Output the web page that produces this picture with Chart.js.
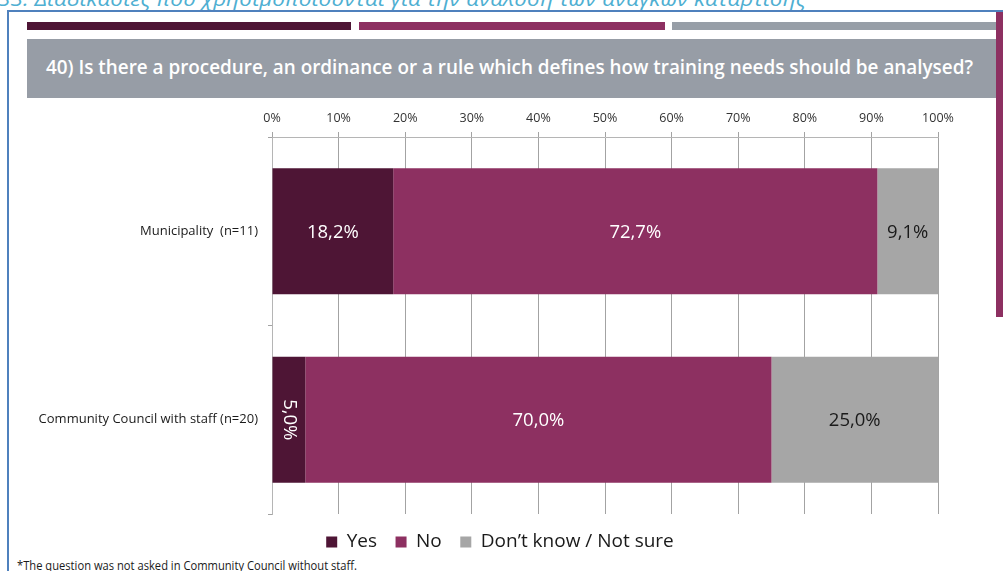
<!DOCTYPE html>
<html>
<head>
<meta charset="utf-8">
<title>Training needs analysis procedure</title>
<script src="https://cdn.jsdelivr.net/npm/chart.js@4/dist/chart.umd.min.js"></script>
<style>
  html, body { margin: 0; padding: 0; background: #fff; overflow: hidden; }
  #page { position: relative; width: 1003px; height: 571px; overflow: hidden; }
  #deco { position: absolute; left: 0; top: 0; }
  #chart { position: absolute; left: 0; top: 0; }
</style>
</head>
<body>
<div id="page">
  <svg id="deco" width="1003" height="571" xmlns="http://www.w3.org/2000/svg">
    <!-- section heading (runs off the top of the page) -->
    <text x="-2" y="6" font-family="Open Sans" font-style="italic" font-size="20" fill="#4fafd2"
          textLength="808" lengthAdjust="spacingAndGlyphs">33. Διαδικασίες που χρησιμοποιούνται για την ανάλυση των αναγκών κατάρτισης</text>
    <!-- blue frame -->
    <rect x="7" y="10" width="2" height="561" fill="#4f81bd"/>
    <rect x="7" y="10" width="996" height="2" fill="#4f81bd"/>
    <!-- colour stripes -->
    <rect x="27" y="22" width="324" height="8" fill="#4e1535"/>
    <rect x="359" y="22" width="306" height="8" fill="#8d3061"/>
    <rect x="672" y="22" width="324" height="8" fill="#979ea7"/>
    <!-- side marker -->
    <rect x="996" y="12" width="7" height="305" fill="#8d3061"/>
    <!-- question banner -->
    <rect x="27" y="39" width="969" height="59" fill="#979da6"/>
    <text x="46" y="74" font-family="Open Sans" font-weight="600" font-size="19.5" fill="#ffffff"
          textLength="927" lengthAdjust="spacingAndGlyphs">40) Is there a procedure, an ordinance or a rule which defines how training needs should be analysed?</text>
    <!-- footnote -->
    <text x="17" y="569.5" font-family="Open Sans" font-size="12.5" fill="#1a1a1a"
          textLength="340" lengthAdjust="spacingAndGlyphs">*The question was not asked in Community Council without staff.</text>
  </svg>
  <canvas id="chart" width="1003" height="571"></canvas>
</div>
<script>
// Respondent groups
const categories = ['Municipality  (n=11)', 'Community Council with staff (n=20)'];
// Answer shares (%)
const yesValues = [18.2, 5.0];
const noValues = [72.7, 70.0];
const notSureValues = [9.1, 25.0];
// Series names
const seriesNames = ['Yes', 'No', 'Don\u2019t know / Not sure'];
// Value axis ticks
const tickValues = [0, 10, 20, 30, 40, 50, 60, 70, 80, 90, 100];

const colours = ['#4e1535', '#8d3061', '#a6a6a6'];
const labelColours = ['#ffffff', '#ffffff', '#1a1a1a'];
const FONT = 'Open Sans';

function fmt(v) {
  return v.toFixed(1).replace('.', ',') + '%';
}

// Value labels in the middle of each bar segment; narrow segments get vertical text
const segmentLabels = {
  id: 'segmentLabels',
  afterDatasetsDraw(chart) {
    const ctx = chart.ctx;
    ctx.save();
    ctx.font = '18.5px "' + FONT + '"';
    ctx.textAlign = 'center';
    ctx.textBaseline = 'middle';
    chart.data.datasets.forEach((ds, di) => {
      const meta = chart.getDatasetMeta(di);
      meta.data.forEach((el, i) => {
        const v = ds.data[i];
        const text = fmt(v);
        const left = Math.min(el.x, el.base);
        const right = Math.max(el.x, el.base);
        const cx = (left + right) / 2;
        const cy = el.y;
        const w = ctx.measureText(text).width;
        ctx.fillStyle = labelColours[di];
        if (w + 6 > right - left) {
          ctx.save();
          ctx.translate(cx, cy);
          ctx.rotate(Math.PI / 2);
          ctx.fillText(text, 0, 0);
          ctx.restore();
        } else {
          ctx.fillText(text, cx, cy + 1);
        }
      });
    });
    ctx.restore();
  }
};

// Centre the legend under the page rather than under the plot box
const legendCentre = {
  id: 'legendCentre',
  afterLayout(chart) {
    const lg = chart.legend;
    if (!lg) return;
    lg.left = 62;
    lg.right = 938;
    lg.width = lg.right - lg.left;
  }
};

new Chart(document.getElementById('chart'), {
  type: 'bar',
  data: {
    labels: categories,
    datasets: [
      { label: seriesNames[0], data: yesValues, backgroundColor: colours[0] },
      { label: seriesNames[1], data: noValues, backgroundColor: colours[1] },
      { label: seriesNames[2], data: notSureValues, backgroundColor: colours[2] }
    ]
  },
  options: {
    indexAxis: 'y',
    responsive: false,
    devicePixelRatio: 1,
    animation: false,
    layout: { padding: { left: 0, right: 65, top: 0, bottom: 9.5 } },
    datasets: {
      bar: { barPercentage: 0.668, categoryPercentage: 1, borderWidth: 0 }
    },
    scales: {
      x: {
        position: 'top',
        stacked: true,
        min: 0,
        max: 100,
        afterFit(s) { s.height = 137; },
        afterBuildTicks(s) { s.ticks = tickValues.map(v => ({ value: v })); },
        ticks: {
          padding: 6,
          color: '#333333',
          font: { family: FONT, size: 12.5 },
          callback: v => v + '%'
        },
        grid: { color: '#a3a3a3', lineWidth: 1, tickLength: 5 },
        border: { color: '#b5b5b5' }
      },
      y: {
        stacked: true,
        afterFit(s) { s.width = 272; },
        ticks: {
          padding: 10,
          color: '#1a1a1a',
          font: { family: FONT, size: 13 }
        },
        grid: { drawOnChartArea: false, color: '#a3a3a3', tickLength: 4 },
        border: { color: '#b5b5b5' }
      }
    },
    plugins: {
      legend: {
        position: 'bottom',
        labels: {
          boxWidth: 11,
          boxHeight: 11,
          padding: 18.5,
          color: '#1a1a1a',
          font: { family: FONT, size: 19 }
        }
      },
      tooltip: { enabled: false }
    }
  },
  plugins: [segmentLabels, legendCentre]
});
</script>
</body>
</html>
